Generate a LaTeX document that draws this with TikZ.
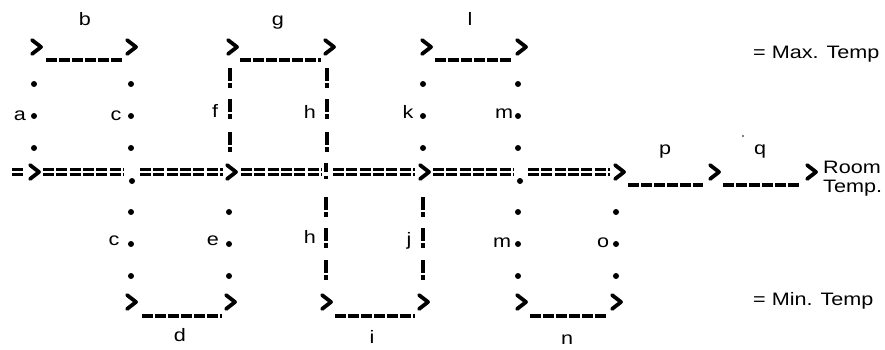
\documentclass[tikz,border=0pt]{standalone}
\usepackage{fontspec}
\setmainfont{Liberation Sans}[FakeStretch=1.2]
\newcommand\mychev[2]{\draw[chev] ({#1},{#2-7}) -- ({#1+9},{#2}) -- ({#1},{#2+7});}
\newcommand\myuline[3]{\draw[uline] ({#1},{#3}) -- ({#2},{#3});}
\newcommand\myeq[2]{\draw[eqline] ({#1},169.5) -- ({#2},169.5); \draw[eqline] ({#1},174.5) -- ({#2},174.5);}
\newcommand\mydot[2]{\fill ({#1},{#2}) circle (3pt);}
\newcommand\mybang[2]{\draw[bang] ({#1},{#2}) -- ({#1},{#2+13}); \draw[bang] ({#1},{#2+15}) -- ({#1},{#2+20});}
\tikzset{
  chev/.style={line width=3.8pt, line join=round, line cap=round},
  uline/.style={line width=3.8pt, dash pattern=on 11pt off 2pt},
  eqline/.style={line width=2.8pt, dash pattern=on 11pt off 2.3pt},
  bang/.style={line width=3.8pt},
  lbl/.style={font=\fontsize{18}{20}\selectfont, anchor=base, inner sep=0pt},
  lblw/.style={lbl, anchor=base west},
}
\begin{document}
\begin{tikzpicture}[x=1pt, y=-1pt]
\useasboundingbox (0,0) rectangle (885,349);
% ---- top row chevrons and underlines
\foreach \xx in {32,127,228,325,422,517} {\mychev{\xx}{47}}
\myuline{46}{124}{60}
\myuline{240}{321}{60}
\myuline{435}{513}{60}
% ---- middle row
\foreach \xx in {30,227,420,615,710,807} {\mychev{\xx}{172}}
\myeq{12}{25}
\myeq{43}{123}
\myeq{140}{223}
\myeq{241}{321}
\myeq{333}{415}
\myeq{433}{513}
\myeq{528}{610}
\myuline{628}{703}{185}
\myuline{723}{799}{185}
\mydot{132}{181}
\mydot{520}{181}
\draw[bang] (326,163) -- (326,172);
\draw[bang] (326,175.5) -- (326,179);
% ---- bottom row chevrons and underlines
\foreach \xx in {127,226,322,419,517,612} {\mychev{\xx}{302}}
\myuline{142}{222}{316}
\myuline{335}{415}{316}
\myuline{530}{608}{316}
% ---- dotted columns
\foreach \xx in {34,131,423,518} {\foreach \yy in {84,116,148} {\mydot{\xx}{\yy}}}
\foreach \xx in {131,229,518,616} {\foreach \yy in {212,244,276} {\mydot{\xx}{\yy}}}
% ---- exclamation columns
\foreach \xx in {230,327} {\foreach \yy in {68,99,132} {\mybang{\xx}{\yy}}}
\foreach \xx in {326,423} {\foreach \yy in {197,228,260} {\mybang{\xx}{\yy}}}
% ---- stray speck
\fill (743,136) circle (0.9pt);
% ---- labels
\node[lbl] (lb) at (85,25) {b};
\node[lbl] (lg) at (278,25) {g};
\node[lbl] (ll) at (470,25) {l};
\node[lbl] (la) at (20,120) {a};
\node[lbl] (lc1) at (116,120) {c};
\node[lbl] (lf) at (215,117) {f};
\node[lbl] (lh1) at (310,118) {h};
\node[lbl] (lk) at (408,118) {k};
\node[lbl] (lm1) at (504,118) {m};
\node[lbl] (lc2) at (114,245) {c};
\node[lbl] (le) at (213,245) {e};
\node[lbl] (lh2) at (310,243) {h};
\node[lbl] (lj) at (409,245) {j};
\node[lbl] (lm2) at (502,247) {m};
\node[lbl] (lo) at (603,247) {o};
\node[lbl] (ld) at (180,341) {d};
\node[lbl] (li) at (372,343) {i};
\node[lbl] (ln) at (567,344) {n};
\node[lbl] (lp) at (665,154) {p};
\node[lbl] (lq) at (760,154) {q};
\node[lblw] (room) at (823,173) {Room};
\node[lblw] (temp) at (823,192) {Temp.};
\node[lblw] (max) at (753,58) {= Max. Temp};
\node[lblw] (min) at (753,305) {= Min. Temp};
\end{tikzpicture}
\end{document}
